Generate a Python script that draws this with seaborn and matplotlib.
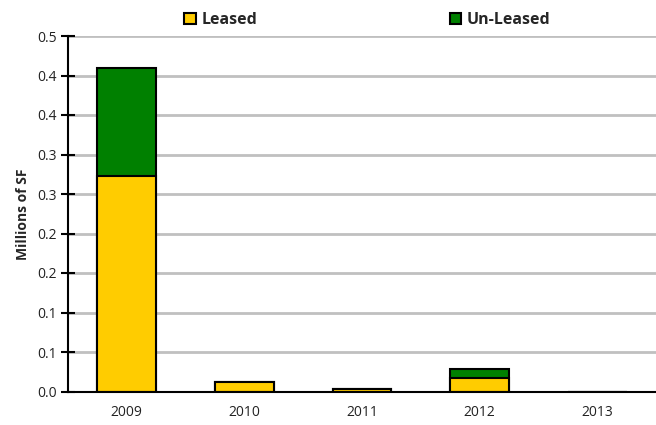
import matplotlib
matplotlib.use("Agg")
import matplotlib.pyplot as plt
import matplotlib.patches as mpatches
import seaborn as sns
import pandas as pd
import numpy as np

years = ["2009", "2010", "2011", "2012", "2013"]
leased = [0.2725, 0.0114, 0.003, 0.0168, 0.0]
unleased = [0.137, 0.0, 0.0, 0.0111, 0.0]
ytick_values = [0.0, 0.05, 0.10, 0.15, 0.20, 0.25, 0.30, 0.35, 0.40, 0.45]
ytick_labels = ["0.0", "0.1", "0.1", "0.2", "0.2", "0.3", "0.3", "0.4", "0.4", "0.5"]

sns.set_theme(style="white")
plt.rcParams["font.family"] = ["Open Sans", "DejaVu Sans"]

df = pd.DataFrame({"year": years, "Leased": leased, "Un-Leased": unleased})
df["total"] = df["Leased"] + df["Un-Leased"]

fig = plt.figure(figsize=(6.56, 4.25), dpi=100)
ax = fig.add_axes([68/656, 1-391.5/425, 1-68/656, (391.5-36)/425])

for v in ytick_values[1:]:
    ax.axhline(v, color="#c0c0c0", lw=2, zorder=0)

yellow = "#FFCC00"
green = "#008000"
sns.barplot(data=df, x="year", y="total", color=green, edgecolor="black",
            linewidth=1.5, width=0.5, saturation=1, ax=ax, zorder=2)
sns.barplot(data=df, x="year", y="Leased", color=yellow, edgecolor="black",
            linewidth=1.5, width=0.5, saturation=1, ax=ax, zorder=3)

ax.set_xlim(-0.5, 4.5)
ax.set_ylim(0, 0.45)
ax.set_yticks(ytick_values)
ax.set_yticklabels(ytick_labels, fontsize=10, color="#222222")
ax.set_xticks(np.arange(-0.5, 5, 1.0))
ax.set_xticklabels([""] * 6)
ax.set_xticks(np.arange(len(years)), minor=True)
ax.set_xticklabels(years, minor=True, fontsize=10, color="#222222")
ax.tick_params(axis="x", which="minor", length=0, pad=10)
ax.tick_params(axis="x", which="major", direction="inout", length=9, width=1.5, color="black")
ax.tick_params(axis="y", direction="inout", length=10, width=1.5, color="black", pad=3, left=True)
ax.set_xlabel("")
ax.set_ylabel("Millions of SF", fontsize=10, fontweight="bold", labelpad=5)

for s in ["top", "right"]:
    ax.spines[s].set_visible(False)
for s in ["left", "bottom"]:
    ax.spines[s].set_color("black")
    ax.spines[s].set_linewidth(1.5)
    ax.spines[s].set_zorder(4)

handles = [mpatches.Patch(facecolor=yellow, edgecolor="black", lw=1.5, label="Leased"),
           mpatches.Patch(facecolor=green, edgecolor="black", lw=1.5, label="Un-Leased")]
leg = fig.legend(handles=handles, loc="upper left", bbox_to_anchor=(170/656, 1.005), ncol=2,
                 frameon=False, prop={"weight": "bold", "size": 11.5},
                 handlelength=0.7, handleheight=0.7, handletextpad=0.35, columnspacing=12.1)

fig.savefig("out.png", dpi=100)
